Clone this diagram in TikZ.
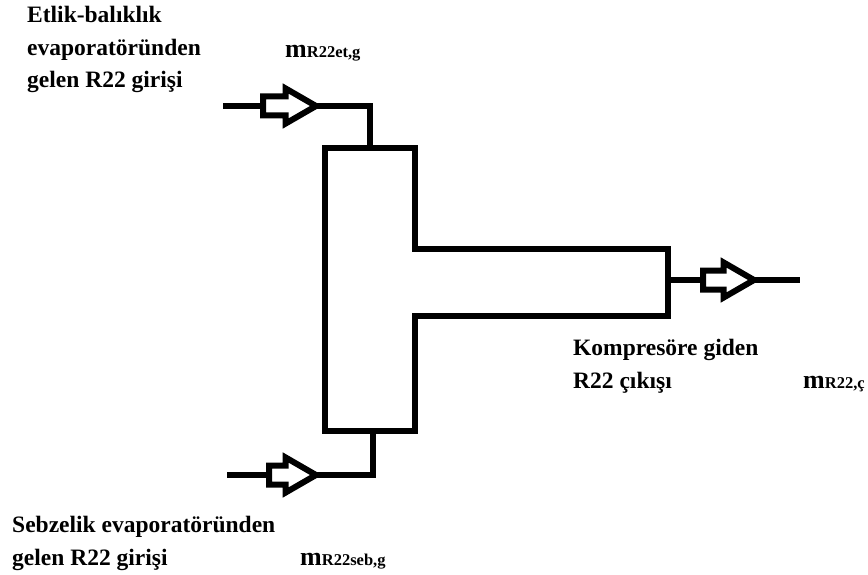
\documentclass[tikz,border=0pt]{standalone}
\usepackage{fontspec}
\setmainfont{Liberation Serif}
\usepackage{tikz}
\usetikzlibrary{positioning,shapes.arrows,calc}

\begin{document}
\begin{tikzpicture}[
    x=1pt, y=-1pt,
    pipe/.style={line width=6.5pt, line join=miter},
    flowarrow/.style={single arrow, draw, fill=white, line width=6pt, inner sep=6.5pt,
        outer sep=0pt, single arrow head extend=8pt, single arrow tip angle=60, line join=miter},
    lbl/.style={anchor=base west, inner sep=0pt, align=left,
        font=\bfseries\fontsize{23.5}{32.5}\selectfont},
    mlbl/.style={anchor=base west, inner sep=0pt, font=\bfseries\fontsize{26}{26}\selectfont}
]
    \useasboundingbox (0,0) rectangle (868,575);

    % Collector body (T shape)
    \draw[pipe] (325,148) -- (415,148) -- (415,249) -- (668,249) -- (668,316)
        -- (415,316) -- (415,431) -- (325,431) -- cycle;
    \coordinate (topJ) at (370,148);
    \coordinate (botJ) at (373,431);
    \coordinate (outJ) at (668,280);

    % Inlet from Etlik-balıklık evaporator
    \coordinate (inAstart) at (223,106);
    \node[flowarrow, minimum height=53pt, anchor=tip] (inA) at (316,106) {};
    \draw[pipe] (inAstart) -- (inA.tail);
    \draw[pipe] (inA.tip) -| (topJ);

    % Inlet from Sebzelik evaporator
    \coordinate (inBstart) at (227,475);
    \node[flowarrow, minimum height=47pt, anchor=tip] (inB) at (316,475) {};
    \draw[pipe] (inBstart) -- (inB.tail);
    \draw[pipe] (inB.tip) -| (botJ);

    % Outlet to compressor
    \coordinate (outEnd) at (800,280);
    \node[flowarrow, minimum height=51pt, anchor=tip] (outC) at (754,280) {};
    \draw[pipe] (outJ) -- (outC.tail);
    \draw[pipe] (outC.tip) -- (outEnd);

    % Labels
    \node[lbl] (lblA) at (27,88) {Etlik-balıklık\\evaporatöründen\\gelen R22 girişi};
    \node[mlbl] (mA) at (285,58) {m{\fontsize{16.5}{16.5}\selectfont R22et,g}};

    \node[lbl] (lblB) at (12,565) {Sebzelik evaporatöründen\\gelen R22 girişi};
    \node[mlbl] (mB) at (300,565) {m{\fontsize{16.5}{16.5}\selectfont R22seb,g}};

    \node[lbl] (lblC) at (573,388) {Kompresöre giden\\R22 çıkışı};
    \node[mlbl] (mC) at (803,388) {m{\fontsize{16.5}{16.5}\selectfont R22,ç}};
\end{tikzpicture}
\end{document}
